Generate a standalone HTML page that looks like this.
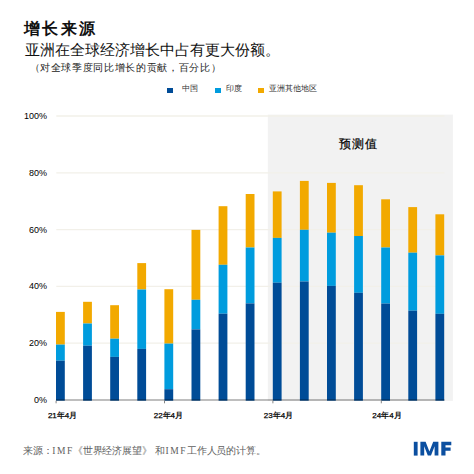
<!DOCTYPE html>
<html><head><meta charset="utf-8">
<style>
html,body{margin:0;padding:0;background:#fff;}
body{width:474px;height:474px;position:relative;overflow:hidden;font-family:"Liberation Sans",sans-serif;color:#111;}
.abs{position:absolute;white-space:nowrap;}
#title{left:24px;top:16px;font-size:16px;font-weight:bold;letter-spacing:2.3px;line-height:26px;color:#111;}
#sub{left:25px;top:39px;font-size:15px;line-height:22px;color:#111;}
#sub2{left:29.5px;top:60.5px;font-size:10px;letter-spacing:0.65px;line-height:14px;color:#222;}
.leg{position:absolute;top:83px;font-size:8px;line-height:12px;color:#333;white-space:nowrap;}
.sq{position:absolute;top:87.5px;width:5.5px;height:5.3px;}
.yl{position:absolute;right:427px;font-size:9px;line-height:12px;color:#000;text-align:right;}
.xl{position:absolute;top:410px;width:60px;text-align:center;font-size:8px;line-height:12px;color:#000;-webkit-text-stroke:0.25px #000;}
#fc{left:339px;top:134.5px;font-size:12px;letter-spacing:0.9px;line-height:18px;color:#000;-webkit-text-stroke:0.2px #000;}
.ft{position:absolute;white-space:nowrap;top:443.7px;font-size:9.5px;letter-spacing:-0.2px;line-height:14px;color:#606060;font-family:"Liberation Serif",serif;}
.lat{letter-spacing:1.6px;}
svg{position:absolute;left:0;top:0;}
</style></head><body>
<svg width="474" height="474" viewBox="0 0 474 474">
<rect x="267.8" y="114.6" width="185.1" height="286.3" fill="#f2f2f2"/>
<line x1="56.3" y1="343.20" x2="444.5" y2="343.20" stroke="#f2f0e9" stroke-width="1.3"/><line x1="56.3" y1="286.40" x2="444.5" y2="286.40" stroke="#f2f0e9" stroke-width="1.3"/><line x1="56.3" y1="229.60" x2="444.5" y2="229.60" stroke="#f2f0e9" stroke-width="1.3"/><line x1="56.3" y1="172.80" x2="444.5" y2="172.80" stroke="#f2f0e9" stroke-width="1.3"/><line x1="56.3" y1="116.00" x2="444.5" y2="116.00" stroke="#f2f0e9" stroke-width="1.3"/>
<rect x="56.00" y="311.90" width="8.8" height="32.70" fill="#f2a900"/><rect x="56.00" y="344.60" width="8.8" height="16.10" fill="#009cde"/><rect x="56.00" y="360.70" width="8.8" height="40.00" fill="#004c97"/><rect x="83.10" y="301.80" width="8.8" height="21.70" fill="#f2a900"/><rect x="83.10" y="323.50" width="8.8" height="22.20" fill="#009cde"/><rect x="83.10" y="345.70" width="8.8" height="55.00" fill="#004c97"/><rect x="110.20" y="305.20" width="8.8" height="33.50" fill="#f2a900"/><rect x="110.20" y="338.70" width="8.8" height="18.20" fill="#009cde"/><rect x="110.20" y="356.90" width="8.8" height="43.80" fill="#004c97"/><rect x="137.30" y="263.10" width="8.8" height="26.40" fill="#f2a900"/><rect x="137.30" y="289.50" width="8.8" height="59.40" fill="#009cde"/><rect x="137.30" y="348.90" width="8.8" height="51.80" fill="#004c97"/><rect x="164.40" y="289.20" width="8.8" height="54.40" fill="#f2a900"/><rect x="164.40" y="343.60" width="8.8" height="45.60" fill="#009cde"/><rect x="164.40" y="389.20" width="8.8" height="11.50" fill="#004c97"/><rect x="191.50" y="229.90" width="8.8" height="69.90" fill="#f2a900"/><rect x="191.50" y="299.80" width="8.8" height="29.60" fill="#009cde"/><rect x="191.50" y="329.40" width="8.8" height="71.30" fill="#004c97"/><rect x="218.60" y="206.20" width="8.8" height="58.60" fill="#f2a900"/><rect x="218.60" y="264.80" width="8.8" height="48.90" fill="#009cde"/><rect x="218.60" y="313.70" width="8.8" height="87.00" fill="#004c97"/><rect x="245.70" y="194.00" width="8.8" height="53.50" fill="#f2a900"/><rect x="245.70" y="247.50" width="8.8" height="55.90" fill="#009cde"/><rect x="245.70" y="303.40" width="8.8" height="97.30" fill="#004c97"/><rect x="272.80" y="191.40" width="8.8" height="46.50" fill="#f2a900"/><rect x="272.80" y="237.90" width="8.8" height="44.80" fill="#009cde"/><rect x="272.80" y="282.70" width="8.8" height="118.00" fill="#004c97"/><rect x="299.90" y="180.90" width="8.8" height="48.90" fill="#f2a900"/><rect x="299.90" y="229.80" width="8.8" height="51.70" fill="#009cde"/><rect x="299.90" y="281.50" width="8.8" height="119.20" fill="#004c97"/><rect x="327.00" y="182.90" width="8.8" height="49.80" fill="#f2a900"/><rect x="327.00" y="232.70" width="8.8" height="53.20" fill="#009cde"/><rect x="327.00" y="285.90" width="8.8" height="114.80" fill="#004c97"/><rect x="354.10" y="185.20" width="8.8" height="50.80" fill="#f2a900"/><rect x="354.10" y="236.00" width="8.8" height="56.80" fill="#009cde"/><rect x="354.10" y="292.80" width="8.8" height="107.90" fill="#004c97"/><rect x="381.20" y="199.30" width="8.8" height="48.20" fill="#f2a900"/><rect x="381.20" y="247.50" width="8.8" height="56.10" fill="#009cde"/><rect x="381.20" y="303.60" width="8.8" height="97.10" fill="#004c97"/><rect x="408.30" y="207.10" width="8.8" height="45.60" fill="#f2a900"/><rect x="408.30" y="252.70" width="8.8" height="58.00" fill="#009cde"/><rect x="408.30" y="310.70" width="8.8" height="90.00" fill="#004c97"/><rect x="435.40" y="214.30" width="8.8" height="41.10" fill="#f2a900"/><rect x="435.40" y="255.40" width="8.8" height="58.40" fill="#009cde"/><rect x="435.40" y="313.80" width="8.8" height="86.90" fill="#004c97"/>
<line x1="56" y1="400.0" x2="444.5" y2="400.0" stroke="rgba(0,0,0,0.34)" stroke-width="1.5"/>
<line x1="56.10" y1="400.7" x2="56.10" y2="403.3" stroke="#777" stroke-width="0.9"/><line x1="164.50" y1="400.7" x2="164.50" y2="403.3" stroke="#777" stroke-width="0.9"/><line x1="272.90" y1="400.7" x2="272.90" y2="403.3" stroke="#777" stroke-width="0.9"/><line x1="381.30" y1="400.7" x2="381.30" y2="403.3" stroke="#777" stroke-width="0.9"/>
<g fill="#0b4fa0">
<rect x="413.8" y="441.8" width="3.8" height="13.8"/>
<path d="M420.4 441.8 H425.6 L429.4 451.4 L433.2 441.8 H438.4 V455.6 H434.6 V446.2 L431.0 455.6 H427.8 L424.2 446.2 V455.6 H420.4 Z"/>
<path d="M441.3 441.8 H451.3 V445.2 H445.5 V447.6 H450.6 V450.8 H445.5 V455.6 H441.3 Z"/>
</g>
</svg>
<div class="abs" id="title">增长来源</div>
<div class="abs" id="sub">亚洲在全球经济增长中占有更大份额。</div>
<div class="abs" id="sub2">（对全球季度同比增长的贡献，百分比）</div>
<div class="sq" style="left:167px;background:#004c97"></div>
<div class="leg" style="left:181.5px">中国</div>
<div class="sq" style="left:215px;background:#009cde"></div>
<div class="leg" style="left:225.5px">印度</div>
<div class="sq" style="left:258px;background:#f2a900"></div>
<div class="leg" style="left:269px">亚洲其他地区</div>
<div class="yl" style="top:394.00px">0%</div><div class="yl" style="top:337.20px">20%</div><div class="yl" style="top:280.40px">40%</div><div class="yl" style="top:223.60px">60%</div><div class="yl" style="top:166.80px">80%</div><div class="yl" style="top:110.00px">100%</div>
<div class="xl" style="left:32.60px">21年4月</div><div class="xl" style="left:138.40px">22年4月</div><div class="xl" style="left:248.50px">23年4月</div><div class="xl" style="left:357.00px">24年4月</div>
<div class="abs" id="fc">预测值</div>
<div class="ft" style="left:23px">来源：</div>
<div class="ft lat" style="left:52.3px">IMF</div>
<div class="ft" style="left:73px">《世界经济展望》</div>
<div class="ft" style="left:154.5px">和</div>
<div class="ft lat" style="left:165.5px">IMF</div>
<div class="ft" style="left:187px">工作人员的计算。</div>
</body></html>
